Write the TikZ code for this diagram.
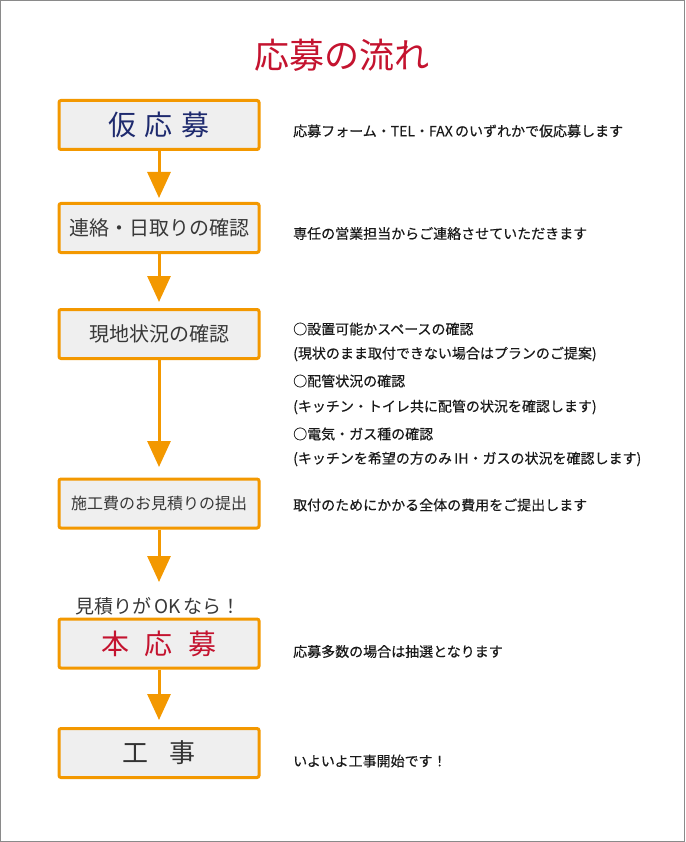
\documentclass[tikz,border=0pt]{standalone}
\usepackage{fontspec}
\setmainfont{Noto Sans CJK JP}
\newfontfamily\descfont[FakeBold=0.35]{Noto Sans CJK JP}
\usetikzlibrary{arrows.meta}
\definecolor{flowor}{HTML}{F39800}
\definecolor{boxfill}{HTML}{EFEFEF}
\definecolor{navy}{HTML}{1E2A6E}
\definecolor{titlered}{HTML}{C4132F}
\definecolor{txtgray}{HTML}{383838}
\definecolor{framegray}{HTML}{8A8A8A}
\tikzset{
  stepbox/.style={draw=flowor, line width=3pt, fill=boxfill, rounded corners=2pt,
    minimum width=200pt, minimum height=49pt, inner sep=0pt, text=txtgray},
  flow/.style={draw=flowor, line width=3pt, -{Triangle[width=23pt,length=26pt]}, flowor},
  desc/.style={anchor=west, font=\descfont\fontsize{14pt}{16pt}\selectfont, text=black!90, inner sep=0pt},
}
\begin{document}
\begin{tikzpicture}[x=1pt,y=-1pt]
\useasboundingbox (0,0) rectangle (685,842);
\draw[framegray, line width=1.2pt] (0.6,0.6) rectangle (684.4,841.4);

\node[text=titlered, font=\fontsize{35pt}{38pt}\selectfont, inner sep=0pt] (title) at (342,55) {応募の流れ};

\node[stepbox, text=navy, font=\fontsize{28pt}{30pt}\selectfont] (b1) at (159,125) {仮\hspace{9pt}応\hspace{9pt}募};
\node[stepbox, font=\fontsize{20pt}{22pt}\selectfont] (b2) at (159,228) {連絡・日取りの確認};
\node[stepbox, font=\fontsize{20pt}{22pt}\selectfont] (b3) at (159,334) {現地状況の確認};
\node[stepbox, font=\fontsize{16pt}{18pt}\selectfont] (b4) at (159,503.5) {施工費のお見積りの提出};
\node[stepbox, text=titlered, font=\fontsize{28pt}{30pt}\selectfont] (b5) at (159,643.5) {本\hspace{16pt}応\hspace{16pt}募};
\node[stepbox, text=black!80, font=\fontsize{26pt}{28pt}\selectfont] (b6) at (159,753) {工\hspace{22pt}事};

\node[text=txtgray, font=\fontsize{19pt}{21pt}\selectfont, inner sep=0pt] (ok) at (158,606) {見積りが\,OK\,なら！};

\coordinate (t1) at (159,198);
\coordinate (t2) at (159,302);
\coordinate (t3) at (159,467);
\coordinate (t4) at (159,582);
\coordinate (t5) at (159,720);
\draw[flow] (b1.south) -- (t1);
\draw[flow] (b2.south) -- (t2);
\draw[flow] (b3.south) -- (t3);
\draw[flow] (b4.south) -- (t4);
\draw[flow] (b5.south) -- (t5);

\node[desc] (d1) at (293,131) {応募フォーム・TEL・FAX\,のいずれかで仮応募します};
\node[desc] (d2) at (293,233.5) {専任の営業担当からご連絡させていただきます};
\node[desc] (d3a) at (293,329) {○設置可能かスペースの確認};
\node[desc] (d3b) at (293,354) {(現状のまま取付できない場合はプランのご提案)};
\node[desc] (d3c) at (293,381) {○配管状況の確認};
\node[desc] (d3d) at (293,407) {(キッチン・トイレ共に配管の状況を確認します)};
\node[desc] (d3e) at (293,434) {○電気・ガス種の確認};
\node[desc] (d3f) at (293,459) {(キッチンを希望の方のみ\,IH・ガスの状況を確認します)};
\node[desc] (d4) at (293,505) {取付のためにかかる全体の費用をご提出します};
\node[desc] (d5) at (293,651.5) {応募多数の場合は抽選となります};
\node[desc] (d6) at (293,761) {いよいよ工事開始です！};
\end{tikzpicture}
\end{document}
